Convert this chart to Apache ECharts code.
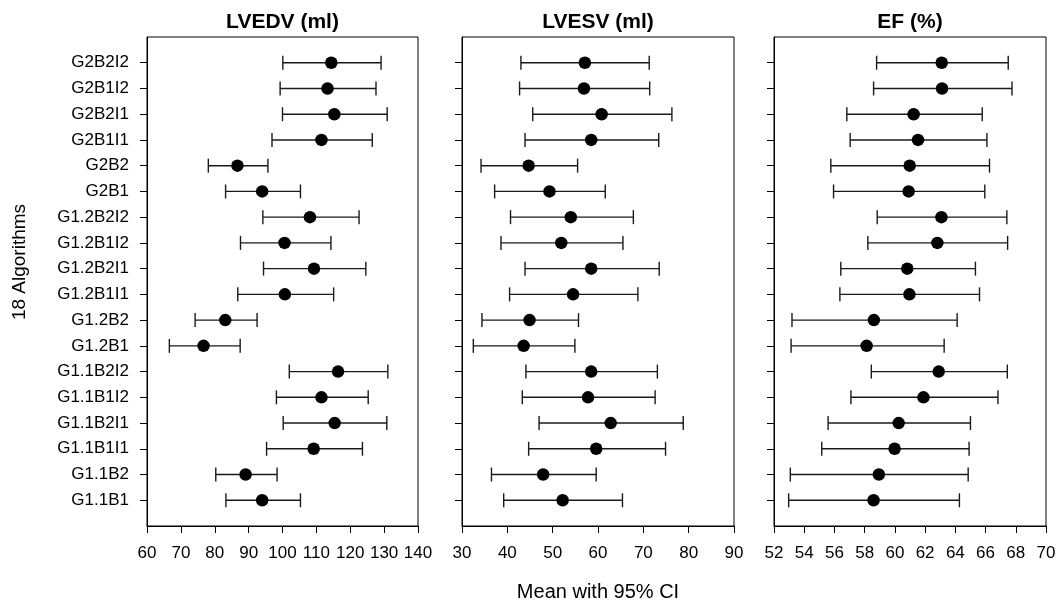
<!DOCTYPE html>
<html>
<head>
<meta charset="utf-8">
<script src="https://cdn.jsdelivr.net/npm/echarts@6/dist/echarts.min.js"></script>
<style>
  html, body { margin: 0; padding: 0; background: #fff; }
  #chart { width: 1062px; height: 608px; }
</style>
</head>
<body>
<div id="chart"></div>
<script>
// Algorithms listed bottom to top
const algorithms = ['G1.1B1', 'G1.1B2', 'G1.1B1I1', 'G1.1B2I1', 'G1.1B1I2', 'G1.1B2I2',
  'G1.2B1', 'G1.2B2', 'G1.2B1I1', 'G1.2B2I1', 'G1.2B1I2', 'G1.2B2I2',
  'G2B1', 'G2B2', 'G2B1I1', 'G2B2I1', 'G2B1I2', 'G2B2I2'];

const panelTitles = ['LVEDV (ml)', 'LVESV (ml)', 'EF (%)'];

const lvedvMean = [94.0, 89.1, 109.2, 115.4, 111.5, 116.4, 76.7, 83.1, 100.7, 109.3, 100.6, 108.1, 94.0, 86.7, 111.5, 115.3, 113.3, 114.4];
const lvedvLow  = [83.3, 80.3, 95.3, 100.2, 98.2, 102.0, 66.6, 74.2, 86.8, 94.4, 87.6, 94.2, 83.2, 78.1, 96.9, 100.0, 99.3, 100.1];
const lvedvHigh = [105.3, 98.4, 123.6, 130.8, 125.3, 131.1, 87.5, 92.5, 115.1, 124.6, 114.3, 122.6, 105.3, 95.7, 126.5, 130.9, 127.6, 129.1];

const lvesvMean = [52.2, 47.9, 59.6, 62.8, 57.8, 58.5, 43.6, 44.9, 54.5, 58.5, 51.9, 54.0, 49.3, 44.7, 58.5, 60.8, 56.9, 57.1];
const lvesvLow  = [39.2, 36.5, 44.7, 47.0, 43.3, 44.1, 32.5, 34.4, 40.5, 43.9, 38.6, 40.7, 37.2, 34.2, 43.9, 45.6, 42.7, 43.0];
const lvesvHigh = [65.4, 59.6, 74.9, 78.8, 72.6, 73.1, 54.9, 55.7, 68.8, 73.5, 65.5, 67.8, 61.6, 55.5, 73.4, 76.3, 71.4, 71.3];

const efMean = [58.59, 58.94, 59.98, 60.25, 61.89, 62.90, 58.13, 58.61, 60.96, 60.82, 62.81, 63.08, 60.91, 60.98, 61.53, 61.24, 63.12, 63.10];
const efLow  = [52.97, 53.08, 55.16, 55.58, 57.09, 58.44, 53.13, 53.19, 56.36, 56.42, 58.21, 58.83, 55.94, 55.76, 57.04, 56.82, 58.59, 58.79];
const efHigh = [64.27, 64.85, 64.91, 65.00, 66.82, 67.44, 63.26, 64.12, 65.60, 65.33, 67.46, 67.41, 65.95, 66.26, 66.09, 65.78, 67.75, 67.50];

const xRanges = [[60, 140, 10], [30, 90, 10], [52, 70, 2]];
const xAxisTitle = 'Mean with 95% CI';
const yAxisTitle = '18 Algorithms';

const FONT = "'Liberation Sans', Arial, sans-serif";
const panels = [
  { mean: lvedvMean, low: lvedvLow, high: lvedvHigh, left: 147, width: 271 },
  { mean: lvesvMean, low: lvesvLow, high: lvesvHigh, left: 462, width: 272 },
  { mean: efMean, low: efLow, high: efHigh, left: 774, width: 272 }
];
const gridTop = 37, gridHeight = 489;

// padded category list so rows sit one step in from the frame edges
const yCats = [''].concat(algorithms, ['']);
const innerTick = (i) => i > 0 && i < yCats.length - 1;

const chart = echarts.init(document.getElementById('chart'), null, { renderer: 'canvas' });

const grids = [], xAxes = [], yAxes = [], series = [], graphics = [];

panels.forEach((p, k) => {
  grids.push({
    left: p.left, top: gridTop, width: p.width, height: gridHeight,
    show: true, borderColor: '#000', borderWidth: 1, containLabel: false
  });
  xAxes.push({
    type: 'value', gridIndex: k,
    min: xRanges[k][0], max: xRanges[k][1], interval: xRanges[k][2],
    axisLine: { show: true, lineStyle: { color: '#000', width: 1 } },
    axisTick: { show: true, inside: false, length: 7, lineStyle: { color: '#000' } },
    axisLabel: { show: true, color: '#000', fontSize: 17, fontFamily: FONT, margin: 19,
      showMinLabel: true, showMaxLabel: true, hideOverlap: false },
    splitLine: { show: false }
  });
  yAxes.push({
    type: 'category', gridIndex: k, data: yCats, boundaryGap: false,
    axisLine: { show: true, lineStyle: { color: '#000', width: 1 } },
    axisTick: { show: true, inside: false, length: 7, interval: (i) => innerTick(i),
      lineStyle: { color: '#000' } },
    axisLabel: { show: k === 0, interval: (i) => innerTick(i), color: '#000',
      fontSize: 17, fontFamily: FONT, margin: 18 },
    splitLine: { show: false }
  });

  const ciData = algorithms.map((_, i) => [p.low[i], p.high[i], i + 1]);
  const meanData = algorithms.map((_, i) => [p.mean[i], i + 1]);

  series.push({
    type: 'custom', xAxisIndex: k, yAxisIndex: k,
    encode: { x: [0, 1], y: 2 },
    data: ciData,
    silent: true,
    renderItem: (params, api) => {
      const y = api.value(2);
      const a = api.coord([api.value(0), y]);
      const b = api.coord([api.value(1), y]);
      const h = 7;
      const style = { stroke: '#1a1a1a', lineWidth: 1.4 };
      return {
        type: 'group',
        children: [
          { type: 'line', shape: { x1: a[0], y1: a[1], x2: b[0], y2: b[1] }, style },
          { type: 'line', shape: { x1: a[0], y1: a[1] - h, x2: a[0], y2: a[1] + h }, style },
          { type: 'line', shape: { x1: b[0], y1: b[1] - h, x2: b[0], y2: b[1] + h }, style }
        ]
      };
    }
  });
  series.push({
    type: 'scatter', xAxisIndex: k, yAxisIndex: k,
    data: meanData, symbol: 'circle', symbolSize: 12.5,
    itemStyle: { color: '#000', opacity: 1 },
    silent: true, z: 5
  });

  graphics.push({
    type: 'text', x: p.left + p.width / 2, y: 22,
    style: { text: panelTitles[k], fill: '#000', font: `bold 21px ${FONT}`,
      textAlign: 'center', textVerticalAlign: 'middle' }
  });
});

graphics.push({
  type: 'text', x: 598, y: 592,
  style: { text: xAxisTitle, fill: '#000', font: `20px ${FONT}`,
    textAlign: 'center', textVerticalAlign: 'middle' }
});
graphics.push({
  type: 'text', x: 20, y: 262, rotation: Math.PI / 2,
  style: { text: yAxisTitle, fill: '#000', font: `19px ${FONT}`,
    textAlign: 'center', textVerticalAlign: 'middle' }
});

chart.setOption({
  animation: false,
  backgroundColor: '#fff',
  grid: grids,
  xAxis: xAxes,
  yAxis: yAxes,
  series: series,
  graphic: graphics
});
</script>
</body>
</html>
